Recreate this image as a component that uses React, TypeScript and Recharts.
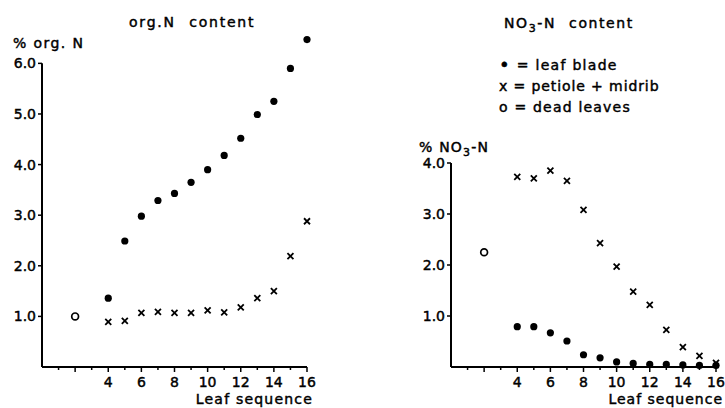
import React from 'react';
import { ScatterChart, Scatter, XAxis, YAxis, ReferenceLine } from 'recharts';

// leaf positions 4..16
const leafSeq = [4, 5, 6, 7, 8, 9, 10, 11, 12, 13, 14, 15, 16];
const deadLeafPos = 2;

// % org. N
const orgNBlade = [1.36, 2.49, 2.98, 3.29, 3.43, 3.65, 3.9, 4.18, 4.52, 4.99, 5.25, 5.9, 6.47];
const orgNPetiole = [0.89, 0.91, 1.07, 1.09, 1.07, 1.07, 1.12, 1.08, 1.18, 1.36, 1.5, 2.19, 2.88];
const orgNDead = 1.0;

// % NO3-N
const no3Blade = [0.79, 0.79, 0.67, 0.51, 0.24, 0.18, 0.1, 0.07, 0.05, 0.05, 0.04, 0.03, 0.03];
const no3Petiole = [3.73, 3.7, 3.85, 3.65, 3.08, 2.43, 1.97, 1.48, 1.22, 0.73, 0.39, 0.22, 0.08];
const no3Dead = 2.25;

const xTicks = [1, 2, 3, 4, 5, 6, 7, 8, 9, 10, 11, 12, 13, 14, 15, 16];
const orgNTicks = [1, 2, 3, 4, 5, 6];
const no3Ticks = [1, 2, 3, 4];

const toPoints = (vals: number[]) => vals.map((y, i) => ({ x: leafSeq[i], y }));

const FONT = '"DejaVu Sans", sans-serif';
const INK = { stroke: '#000', strokeWidth: 0.45 };

const Dot = (p: any) => <circle cx={p.cx} cy={p.cy} r={3.6} fill="#000" />;
const Cross = (p: any) => {
  const { cx, cy } = p;
  return (
    <path
      d={`M${cx - 3},${cy - 3}L${cx + 3},${cy + 3}M${cx + 3},${cy - 3}L${cx - 3},${cy + 3}`}
      stroke="#000"
      strokeWidth={1.8}
    />
  );
};
const Ring = (p: any) => <circle cx={p.cx} cy={p.cy} r={3.4} fill="#fff" stroke="#000" strokeWidth={1.7} />;

const XTick = (props: any) => {
  const { x, y, payload } = props;
  const v = payload.value;
  const major = v % 2 === 0;
  const y0 = y - 7;
  return (
    <g>
      <line x1={x} x2={x} y1={y0} y2={y0 + (major ? 5 : 3)} stroke="#000" strokeWidth={1.5} />
      {major && v >= 4 && (
        <text x={x} y={y0 + 20} textAnchor="middle" fontSize={14} fontFamily={FONT} fill="#000" {...INK}>
          {v}
        </text>
      )}
    </g>
  );
};

const yTickStyle = { fontSize: 14, fontFamily: FONT, fill: '#000', ...INK };

const App = () => {
  return (
    <div style={{ position: 'absolute', left: 0, top: 0, width: 725, height: 408, background: '#fff' }}>
      {/* left panel: org. N */}
      <div style={{ position: 'absolute', left: 0, top: 0 }}>
        <ScatterChart width={362} height={408} margin={{ top: 33, right: 55, bottom: 0, left: 0 }}>
          <XAxis
            type="number"
            dataKey="x"
            domain={[0, 16]}
            ticks={xTicks}
            tick={<XTick />}
            tickLine={false}
            tickSize={5}
            tickMargin={2}
            height={41}
            axisLine={{ stroke: '#000', strokeWidth: 2 }}
            interval={0}
          />
          <YAxis
            type="number"
            dataKey="y"
            domain={[0, 6.6]}
            ticks={orgNTicks}
            width={42}
            tickSize={4}
            tickMargin={2}
            tickFormatter={(v: number) => v.toFixed(1)}
            tick={yTickStyle}
            tickLine={{ stroke: '#000', strokeWidth: 1.5 }}
            axisLine={false}
            interval={0}
          />
          <ReferenceLine segment={[{ x: 0, y: 0 }, { x: 0, y: 6 }]} stroke="#000" strokeWidth={2} />
          <Scatter data={toPoints(orgNBlade)} shape={Dot} isAnimationActive={false} />
          <Scatter data={toPoints(orgNPetiole)} shape={Cross} isAnimationActive={false} />
          <Scatter data={[{ x: deadLeafPos, y: orgNDead }]} shape={Ring} isAnimationActive={false} />
        </ScatterChart>
      </div>

      {/* right panel: NO3-N */}
      <div style={{ position: 'absolute', left: 362, top: 0 }}>
        <ScatterChart width={363} height={408} margin={{ top: 163, right: 9, bottom: 0, left: 0 }}>
          <XAxis
            type="number"
            dataKey="x"
            domain={[0, 16]}
            ticks={xTicks}
            tick={<XTick />}
            tickLine={false}
            tickSize={5}
            tickMargin={2}
            height={41}
            axisLine={{ stroke: '#000', strokeWidth: 2 }}
            interval={0}
          />
          <YAxis
            type="number"
            dataKey="y"
            domain={[0, 4]}
            ticks={no3Ticks}
            width={89}
            tickSize={4}
            tickMargin={2}
            tickFormatter={(v: number) => v.toFixed(1)}
            tick={yTickStyle}
            tickLine={{ stroke: '#000', strokeWidth: 1.5 }}
            axisLine={{ stroke: '#000', strokeWidth: 2 }}
            interval={0}
          />
          <Scatter data={toPoints(no3Blade)} shape={Dot} isAnimationActive={false} />
          <Scatter data={toPoints(no3Petiole)} shape={Cross} isAnimationActive={false} />
          <Scatter data={[{ x: deadLeafPos, y: no3Dead }]} shape={Ring} isAnimationActive={false} />
        </ScatterChart>
      </div>

      {/* titles, axis titles, legend */}
      <svg
        width={725}
        height={408}
        style={{ position: 'absolute', left: 0, top: 0, pointerEvents: 'none' }}
        fontFamily={FONT}
        fontSize={14}
        fill="#000"
        {...INK}
      >
        <text x={129} y={27} letterSpacing={1.8} wordSpacing={7}>org.N content</text>
        <text x={13} y={48} letterSpacing={1.4}>% org. N</text>
        <text x={313} y={404} textAnchor="end" letterSpacing={1.2}>Leaf sequence</text>

        <text x={504} y={28} letterSpacing={1.6} wordSpacing={7}>
          NO<tspan fontSize={11} dy={4}>3</tspan>
          <tspan dy={-4}>-N content</tspan>
        </text>
        <text x={499} y={70} letterSpacing={1.3}>
          <tspan fontSize={18} dy={1}>•</tspan>
          <tspan dy={-1}> = leaf blade</tspan>
        </text>
        <text x={499} y={91} letterSpacing={0.9}>x = petiole + midrib</text>
        <text x={499} y={112} letterSpacing={1.2}>o = dead leaves</text>
        <text x={419} y={152} letterSpacing={1.2}>
          % NO<tspan fontSize={11} dy={4}>3</tspan>
          <tspan dy={-4}>-N</tspan>
        </text>
        <text x={723} y={404} textAnchor="end" letterSpacing={1}>Leaf sequence</text>
      </svg>
    </div>
  );
};

export default App;
